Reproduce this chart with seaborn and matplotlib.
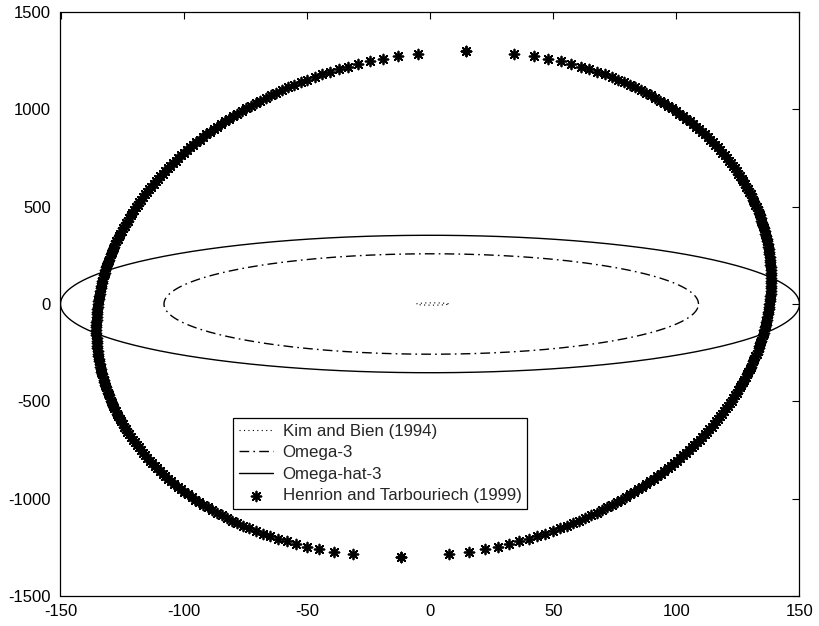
import numpy as np
import pandas as pd
import matplotlib
matplotlib.use("Agg")
import matplotlib.pyplot as plt
import seaborn as sns

# ---- data ----
series_names = ["Kim and Bien (1994)", "Omega-3", "Omega-hat-3",
                "Henrion and Tarbouriech (1999)"]
# ellipse parameters: centre x, half-width, half-height, horizontal shear at top
kim_params = [1.0, 6.5, 6.0, 0.0]
omega_params = [0.5, 108.5, 258.0, 0.0]
omegahat_params = [0.0, 150.0, 353.0, 0.0]
henrion_params = [1.5, 136.3, 1300.0, 13.3]
henrion_levels = 195          # number of equally spaced y levels of the asterisks
x_ticks = [-150, -100, -50, 0, 50, 100, 150]
y_ticks = [-1500, -1000, -500, 0, 500, 1000, 1500]


def ellipse_curve(p, n=361):
    xc, a, b, d = p
    t = np.linspace(0, 2 * np.pi, n)
    return pd.DataFrame({"x": xc + a * np.cos(t) + d * np.sin(t),
                         "y": b * np.sin(t)})


def ellipse_levels(p, n):
    xc, a, b, d = p
    y = np.linspace(-b, b, n)
    s = y / b
    c = np.sqrt(np.clip(1 - s ** 2, 0, None))
    x1 = xc + d * s + a * c
    x2 = xc + d * s - a * c
    return pd.DataFrame({"x": np.concatenate([x1, x2]),
                         "y": np.concatenate([y, y])})


sns.set_style("white")
plt.rcParams["font.family"] = ["Liberation Sans", "DejaVu Sans"]
plt.rcParams["axes.unicode_minus"] = False

df_kim = ellipse_curve(kim_params)
df_om = ellipse_curve(omega_params)
df_oh = ellipse_curve(omegahat_params)
df_he = ellipse_levels(henrion_params, henrion_levels)

fig = plt.figure(figsize=(8.2, 6.26), dpi=100)
ax = fig.add_axes([60.5 / 820, 1 - 596 / 626, 739 / 820, 584 / 626])

sns.lineplot(data=df_kim, x="x", y="y", sort=False, estimator=None, ax=ax,
             color="black", lw=0.8, linestyle=(0, (1, 3)),
             label=series_names[0])
sns.lineplot(data=df_om, x="x", y="y", sort=False, estimator=None, ax=ax,
             color="black", lw=1.0, linestyle=(0, (7, 3, 1.2, 3)),
             label=series_names[1])
sns.lineplot(data=df_oh, x="x", y="y", sort=False, estimator=None, ax=ax,
             color="black", lw=1.0, linestyle="-", label=series_names[2])
sns.scatterplot(data=df_he, x="x", y="y", ax=ax, marker=(8, 2, 0), s=50,
                color="black", linewidth=1.3, edgecolor="black",
                label=series_names[3], zorder=3)

ax.set_xlim(-150, 150)
ax.set_ylim(-1500, 1500)
ax.set_xticks(x_ticks)
ax.set_yticks(y_ticks)
ax.set_xlabel("")
ax.set_ylabel("")
ax.tick_params(direction="in", length=5, width=0.8, top=True, right=True,
               labelsize=12, colors="black")
ax.tick_params(axis="x", pad=6)
ax.tick_params(axis="y", pad=7)
for sp in ax.spines.values():
    sp.set_visible(True)
    sp.set_color("black")
    sp.set_linewidth(0.9)

leg = ax.legend(loc="upper left", bbox_to_anchor=(0.233, 0.305),
                fontsize=12.2, frameon=True, fancybox=False, shadow=False,
                handlelength=2.0, handletextpad=0.6, borderpad=0.35,
                labelspacing=0.38, borderaxespad=0)
leg.get_frame().set_edgecolor("black")
leg.get_frame().set_linewidth(0.9)
leg.get_frame().set_alpha(1)

fig.savefig("out.png", dpi=100)
